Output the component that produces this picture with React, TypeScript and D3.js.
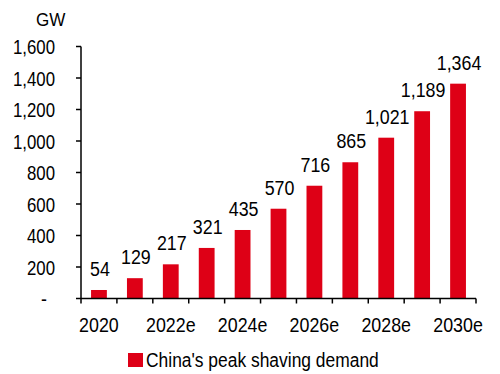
import React from "react";
import * as d3 from "d3";

const categories = ["2020", "2021", "2022e", "2023e", "2024e", "2025e", "2026e", "2027e", "2028e", "2029e", "2030e"];
const values = [54, 129, 217, 321, 435, 570, 716, 865, 1021, 1189, 1364];
const yTicks = [0, 200, 400, 600, 800, 1000, 1200, 1400, 1600];
const xTickLabels = ["2020", "", "2022e", "", "2024e", "", "2026e", "", "2028e", "", "2030e"];
const seriesName = "China's peak shaving demand";
const unit = "GW";

const RED = "#DE0016";
const FONT = "'Liberation Sans', Arial, sans-serif";

function T({ x, y, anchor = "middle", size = 21, sx = 0.85, children }: any) {
  return (
    <text
      transform={`translate(${x},${y}) scale(${sx},1)`}
      textAnchor={anchor}
      fontSize={size}
      fontFamily={FONT}
      fill="#000"
    >
      {children}
    </text>
  );
}

export default function App() {
  const left = 81;
  const right = 476;
  const top = 46.5;
  const bottom = 298.5;

  const x = d3.scaleBand<string>().domain(categories).range([left, right]).paddingInner(0.56).paddingOuter(0.28);
  const step = x.step();
  const y = d3.scaleLinear().domain([0, 1600]).range([bottom, top]);
  const fmt = d3.format(",");

  return (
    <svg width={500} height={374} style={{ position: "absolute", left: 0, top: 0 }}>
      <rect width={500} height={374} fill="#fff" />
      {values.map((v, i) => (
        <rect key={i} x={x(categories[i])} y={y(v)} width={x.bandwidth()} height={y(0) - y(v)} fill={RED} />
      ))}
      {values.map((v, i) => (
        <T key={"l" + i} x={(x(categories[i]) as number) + x.bandwidth() / 2 + 1} y={y(v) - 14}>
          {fmt(v)}
        </T>
      ))}
      {/* y axis */}
      <line x1={left} x2={left} y1={top} y2={bottom} stroke="#000" strokeWidth={1.5} />
      {yTicks.map((t) => (
        <g key={t}>
          <line x1={left - 5} x2={left} y1={y(t)} y2={y(t)} stroke="#000" strokeWidth={1.5} />
          {t === 0 ? (
            <T x={44} y={y(t) + 7} anchor="middle">-</T>
          ) : (
            <T x={55} y={y(t) + 7.5} anchor="end" sx={0.8}>{fmt(t)}</T>
          )}
        </g>
      ))}
      {/* x axis */}
      <line x1={left} x2={right} y1={bottom} y2={bottom} stroke="#000" strokeWidth={1.5} />
      {d3.range(categories.length + 1).map((i) => (
        <line key={"xt" + i} x1={left + i * step} x2={left + i * step} y1={bottom} y2={bottom + 5} stroke="#000" strokeWidth={1.5} />
      ))}
      {xTickLabels.map((lab, i) =>
        lab ? (
          <T key={"xl" + i} x={(x(categories[i]) as number) + x.bandwidth() / 2} y={332}>
            {lab}
          </T>
        ) : null
      )}
      <T x={36} y={25.5} anchor="start" size={18} sx={0.95}>{unit}</T>
      {/* legend */}
      <rect x={128} y={353} width={15} height={14} fill={RED} />
      <T x={146} y={367} anchor="start" sx={0.83}>{seriesName}</T>
    </svg>
  );
}
